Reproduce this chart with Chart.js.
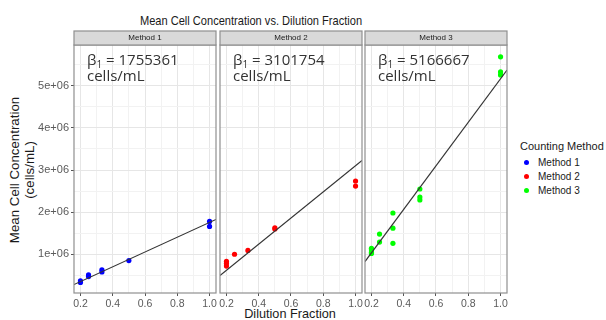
<!DOCTYPE html>
<html>
<head>
<meta charset="utf-8">
<script src="https://cdn.jsdelivr.net/npm/chart.js@4.4.1/dist/chart.umd.min.js"></script>
<style>
  html, body { margin: 0; padding: 0; background: #fff; }
  #wrap { position: relative; width: 606px; height: 320px; overflow: hidden;
          font-family: "Liberation Sans", Arial, sans-serif; color: #1a1a1a; }
  #wrap canvas { position: absolute; }
  .txt { position: absolute; white-space: nowrap; }
  #title { left: 251px; top: 20px; font-size: 13.5px; transform: translate(-50%, -50%) scaleX(0.82); }
  #ylab { left: 22px; top: 170px; font-size: 13.3px; line-height: 15px; text-align: center;
          transform: translate(-50%, -50%) rotate(-90deg); }
  #xlab { left: 290px; top: 314px; font-size: 12.7px; transform: translate(-50%, -50%); }
  #legend { position: absolute; left: 520px; top: 140px; font-size: 11px; }
  .item { position: absolute; left: 0; font-size: 10px; white-space: nowrap; }
  .dot { position: absolute; left: 4px; width: 5px; height: 5px; border-radius: 50%; }
</style>
</head>
<body>
<div id="wrap">
  <div class="txt" id="title">Mean Cell Concentration vs. Dilution Fraction</div>
  <div class="txt" id="ylab">Mean Cell Concentration<br>(cells/mL)</div>
  <div class="txt" id="xlab">Dilution Fraction</div>
  <div id="legend"></div>
</div>
<script>
// values
const methods = ["Method 1", "Method 2", "Method 3"];
const colors = ["#0000ff", "#ff0000", "#00ff00"];
const slopes = ["1755361", "3101754", "5166667"];

const m1X = [0.2, 0.2, 0.25, 0.25, 0.333, 0.333, 0.5, 1, 1];
const m1Y = [330000, 370000, 470000, 510000, 580000, 630000, 850000, 1660000, 1780000];
const m2X = [0.2, 0.2, 0.2, 0.25, 0.333, 0.5, 0.5, 1, 1];
const m2Y = [720000, 780000, 830000, 1000000, 1090000, 1600000, 1630000, 2620000, 2740000];
const m3X = [0.2, 0.2, 0.2, 0.2, 0.25, 0.25, 0.333, 0.333, 0.333, 0.5, 0.5, 0.5, 1, 1, 1];
const m3Y = [1020000, 1050000, 1100000, 1140000, 1290000, 1480000, 1260000, 1620000, 1980000,
             2290000, 2360000, 2550000, 5260000, 5330000, 5690000];

// fitted lines, ends at the panel edges
const fitX = [0.16, 1.04];
const fit1Y = [280000, 1826000];
const fit2Y = [496000, 3226000];
const fit3Y = [827000, 5373000];

const xMajor = [0.2, 0.4, 0.6, 0.8, 1.0];
const xMajorLabels = ["0.2", "0.4", "0.6", "0.8", "1.0"];
const xMinor = [0.3, 0.5, 0.7, 0.9];
const yMajor = [1000000, 2000000, 3000000, 4000000, 5000000];
const yMajorLabels = ["1e+06", "2e+06", "3e+06", "4e+06", "5e+06"];
const yMinor = [500000, 1500000, 2500000, 3500000, 4500000, 5500000];

const xs = [m1X, m2X, m3X];
const ys = [m1Y, m2Y, m3Y];
const fits = [fit1Y, fit2Y, fit3Y];

Chart.defaults.font.family = '"Liberation Sans", Arial, sans-serif';

const panelLeft = [74, 220, 365];
const panelW = 142;

function pts(xArr, yArr) {
  return xArr.map((x, i) => ({ x: x, y: yArr[i] }));
}

const facetPlugin = {
  id: "facet",
  afterDraw(chart, args, opts) {
    const { ctx, chartArea: a } = chart;
    const w = a.right - a.left;
    ctx.save();
    ctx.strokeStyle = "#8f8f8f";
    ctx.lineWidth = 1.2;
    ctx.strokeRect(a.left, a.top, w, a.bottom - a.top);
    ctx.fillStyle = "#d9d9d9";
    ctx.fillRect(a.left, a.top - 14, w, 14);
    ctx.strokeRect(a.left, a.top - 14, w, 14);
    ctx.fillStyle = "#1a1a1a";
    ctx.font = '8px "Liberation Sans", Arial, sans-serif';
    ctx.textAlign = "center";
    ctx.textBaseline = "middle";
    ctx.fillText(opts.strip, a.left + w / 2, a.top - 7);

    // beta annotation
    ctx.textAlign = "left";
    ctx.textBaseline = "alphabetic";
    ctx.fillStyle = "#333333";
    let x = a.left + 13;
    const y1 = a.top + 20;
    ctx.font = '15px "Open Sans", sans-serif';
    ctx.fillText("β", x, y1);
    x += ctx.measureText("β").width;
    ctx.font = '10px "Open Sans", sans-serif';
    ctx.fillText("1", x, y1 + 3);
    x += ctx.measureText("1").width;
    ctx.font = '15px "Open Sans", sans-serif';
    ctx.fillText(" = " + opts.slope, x, y1);
    ctx.fillText("cells/mL", a.left + 13, y1 + 16);
    ctx.restore();
  }
};

function gridColor(major, c1, c2) {
  return (ctx) => (ctx.tick && major.includes(ctx.tick.value) ? c1 : c2);
}

methods.forEach((name, k) => {
  const first = k === 0;
  const cvs = document.createElement("canvas");
  const left = first ? 0 : panelLeft[k] - 10;
  const width = first ? panelLeft[0] + panelW + 10 : panelW + 20;
  cvs.width = width;
  cvs.height = 285;
  cvs.style.left = left + "px";
  cvs.style.top = "30px";
  cvs.style.width = width + "px";
  cvs.style.height = "285px";
  document.getElementById("wrap").appendChild(cvs);

  new Chart(cvs, {
    type: "scatter",
    data: {
      datasets: [
        {
          data: pts(fitX, fits[k]),
          showLine: true,
          borderColor: "#333333",
          borderWidth: 1.1,
          pointRadius: 0,
          order: 0
        },
        {
          data: pts(xs[k], ys[k]),
          pointRadius: 2.6,
          pointBackgroundColor: colors[k],
          pointBorderColor: colors[k],
          pointBorderWidth: 0,
          order: 1
        }
      ]
    },
    options: {
      responsive: false,
      animation: false,
      devicePixelRatio: 1,
      layout: { padding: { left: first ? 0 : 10, right: 10, top: 15, bottom: 0 } },
      plugins: {
        legend: { display: false },
        tooltip: { enabled: false },
        facet: { strip: name, slope: slopes[k] }
      },
      scales: {
        x: {
          type: "linear",
          min: 0.16,
          max: 1.04,
          afterBuildTicks: (s) => {
            s.ticks = xMajor.concat(xMinor).sort((a, b) => a - b).map((v) => ({ value: v }));
          },
          afterFit: (s) => { s.height = 22; },
          border: { display: false },
          grid: {
            color: gridColor(xMajor, "#e6e6e6", "#f2f2f2"),
            tickColor: gridColor(xMajor, "#555555", "rgba(0,0,0,0)"),
            tickLength: 3
          },
          ticks: {
            autoSkip: false,
            maxRotation: 0,
            padding: 2,
            color: "#5a5a5a",
            font: { size: 10.5 },
            callback: (v) => {
              const i = xMajor.indexOf(v);
              return i >= 0 ? xMajorLabels[i] : "";
            }
          }
        },
        y: {
          type: "linear",
          min: 80000,
          max: 5970000,
          afterBuildTicks: (s) => {
            s.ticks = yMajor.concat(yMinor).sort((a, b) => a - b).map((v) => ({ value: v }));
          },
          afterFit: (s) => { s.width = first ? panelLeft[0] : 0; },
          border: { display: false },
          grid: {
            color: gridColor(yMajor, "#e6e6e6", "#f2f2f2"),
            tickColor: gridColor(yMajor, "#555555", "rgba(0,0,0,0)"),
            tickLength: 3,
            drawTicks: first
          },
          ticks: {
            display: first,
            autoSkip: false,
            padding: 2,
            color: "#5a5a5a",
            font: { size: 11 },
            callback: (v) => {
              const i = yMajor.indexOf(v);
              return i >= 0 ? yMajorLabels[i] : "";
            }
          }
        }
      }
    },
    plugins: [facetPlugin]
  });
});

// legend
const legend = document.getElementById("legend");
legend.innerHTML = '<div class="txt" style="left:0;top:0;">Counting Method</div>';
methods.forEach((name, k) => {
  const top = 17 + k * 14;
  legend.innerHTML +=
    '<div class="dot" style="top:' + (top + 3) + 'px;background:' + colors[k] + ';"></div>' +
    '<div class="item" style="left:18px;top:' + top + 'px;">' + name + '</div>';
});
</script>
</body>
</html>
